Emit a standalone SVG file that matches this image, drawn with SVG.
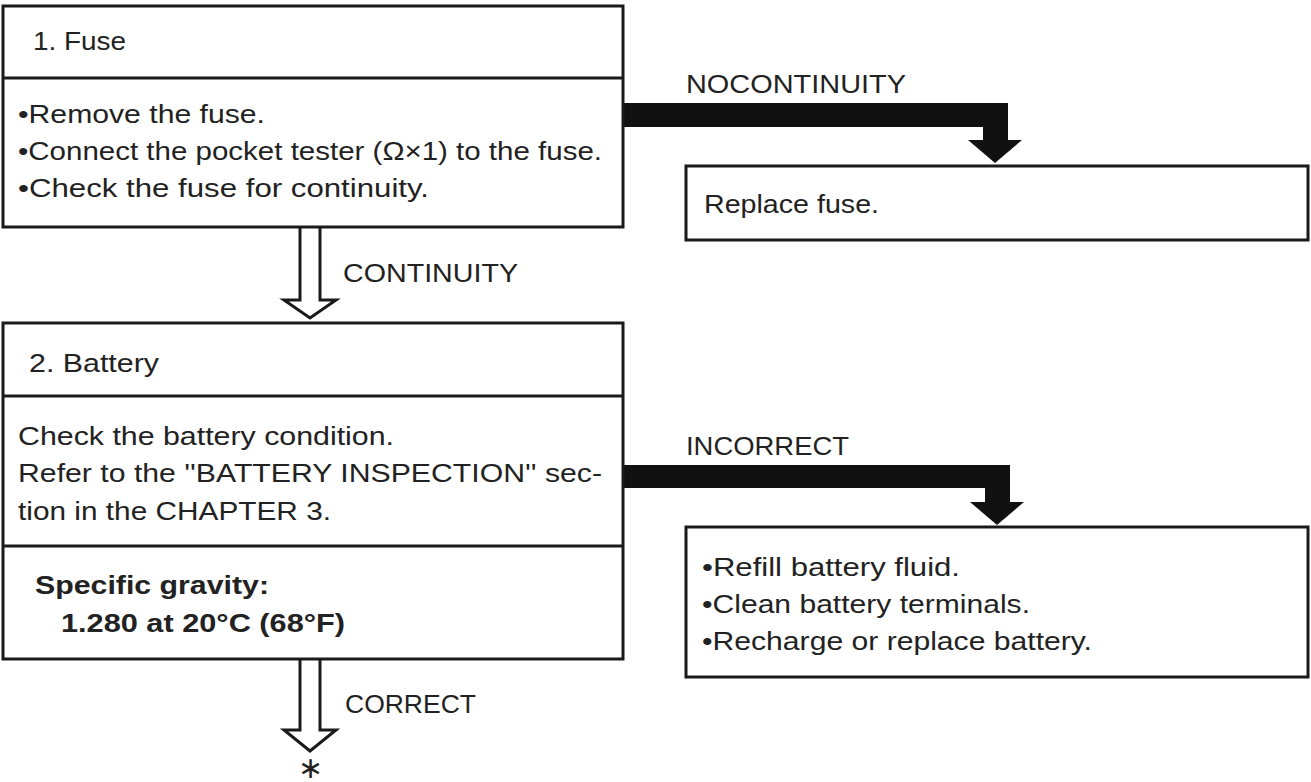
<svg xmlns="http://www.w3.org/2000/svg" width="1311" height="782" viewBox="0 0 1311 782">
<style>
.box{fill:#fff;stroke:#1a1a1a;stroke-width:3}
.div{stroke:#1a1a1a;stroke-width:3}
.t{font-family:"Liberation Sans",Arial,sans-serif;font-size:26px;fill:#222}
.b{font-weight:bold}
.hollow{fill:#fff;stroke:#1a1a1a;stroke-width:3;stroke-linejoin:miter}
.solid{fill:#111;stroke:none}
</style>
<rect width="1311" height="782" fill="#fff"/>
<g id="connectors">
<path class="hollow" d="M300,228 V300 H284 L310,318 L336,300 H320 V228"/>
<path class="hollow" d="M300,659 V730 H284 L310,751 L336,730 H320 V659"/>
<path class="solid" d="M623,103 H1008 V140 H1022 L995,163 L968,140 H983 V127 H623 Z"/>
<path class="solid" d="M623,465 H1010 V502 H1024 L997,525 L970,502 H985 V488 H623 Z"/>
<text class="t" x="343" y="282" textLength="175" lengthAdjust="spacingAndGlyphs">CONTINUITY</text>
<text class="t" x="686" y="93" textLength="220" lengthAdjust="spacingAndGlyphs">NOCONTINUITY</text>
<text class="t" x="686" y="455" textLength="163" lengthAdjust="spacingAndGlyphs">INCORRECT</text>
<text class="t" x="345" y="713" textLength="131" lengthAdjust="spacingAndGlyphs">CORRECT</text>
<text class="t" x="310" y="778" text-anchor="middle" style="font-size:30px">∗</text>
</g>
<g id="fuse">
<rect class="box" x="3" y="6" width="620" height="221"/>
<line class="div" x1="3" y1="78" x2="623" y2="78"/>
<text class="t" x="33" y="50" textLength="93" lengthAdjust="spacingAndGlyphs">1. Fuse</text>
<text class="t" x="18" y="123" textLength="247" lengthAdjust="spacingAndGlyphs">•Remove the fuse.</text>
<text class="t" x="18" y="160" textLength="584" lengthAdjust="spacingAndGlyphs">•Connect the pocket tester (Ω×1) to the fuse.</text>
<text class="t" x="18" y="197" textLength="411" lengthAdjust="spacingAndGlyphs">•Check the fuse for continuity.</text>
</g>
<g id="replace-fuse">
<rect class="box" x="686" y="166" width="622" height="74"/>
<text class="t" x="704" y="213" textLength="175" lengthAdjust="spacingAndGlyphs">Replace fuse.</text>
</g>
<g id="battery">
<rect class="box" x="3" y="323" width="620" height="336"/>
<line class="div" x1="3" y1="396" x2="623" y2="396"/>
<line class="div" x1="3" y1="546" x2="623" y2="546"/>
<text class="t" x="29" y="372" textLength="130" lengthAdjust="spacingAndGlyphs">2. Battery</text>
<text class="t" x="18" y="445" textLength="376" lengthAdjust="spacingAndGlyphs">Check the battery condition.</text>
<text class="t" x="18" y="482" textLength="584" lengthAdjust="spacingAndGlyphs">Refer to the ''BATTERY INSPECTION'' sec-</text>
<text class="t" x="18" y="520" textLength="313" lengthAdjust="spacingAndGlyphs">tion in the CHAPTER 3.</text>
<text class="t b" x="35" y="594" textLength="234" lengthAdjust="spacingAndGlyphs">Specific gravity:</text>
<text class="t b" x="61" y="632" textLength="284" lengthAdjust="spacingAndGlyphs">1.280 at 20°C (68°F)</text>
</g>
<g id="battery-fix">
<rect class="box" x="686" y="527" width="622" height="150"/>
<text class="t" x="702" y="576" textLength="258" lengthAdjust="spacingAndGlyphs">•Refill battery fluid.</text>
<text class="t" x="702" y="613" textLength="328" lengthAdjust="spacingAndGlyphs">•Clean battery terminals.</text>
<text class="t" x="702" y="650" textLength="390" lengthAdjust="spacingAndGlyphs">•Recharge or replace battery.</text>
</g>
</svg>
